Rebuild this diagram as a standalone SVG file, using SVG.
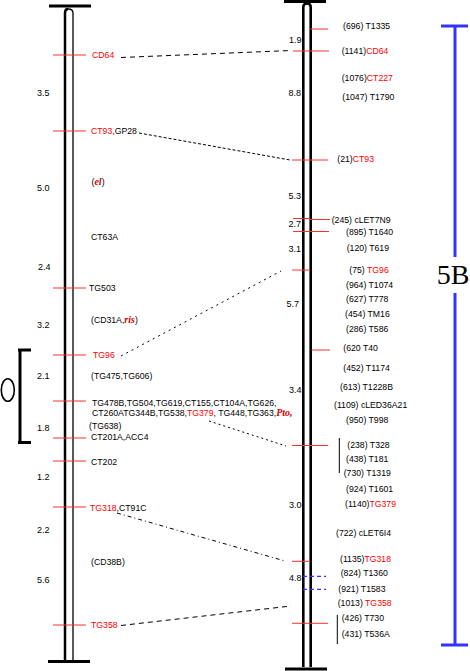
<svg xmlns="http://www.w3.org/2000/svg" width="470" height="671" viewBox="0 0 470 671">
<style>
text{font-family:"Liberation Sans",Arial,sans-serif;font-size:8.7px;fill:#000}
.r{fill:#ff0000}
.d{font-size:9px}
.it{font-family:"Liberation Serif",serif;font-weight:bold;font-style:italic;fill:#d00000;font-size:10px}
.tk{stroke:#ff3030;stroke-width:1}
.bt{stroke:#3333ff;stroke-width:1.2;stroke-dasharray:4 3}
.cn{stroke:#000;stroke-width:1;fill:none}
.bar{stroke:#000;fill:none}
.blue{stroke:#3333ff;stroke-width:3;fill:none}
</style>
<rect width="470" height="671" fill="#fff"/>

<g id="chrom-left">
<line class="bar" x1="49" y1="6" x2="91" y2="6" stroke-width="3"/>
<line class="bar" x1="48" y1="661.5" x2="90" y2="661.5" stroke-width="3"/>
<path class="bar" d="M65,660 L65,13 Q65,9 68,9" stroke-width="2.5"/>
<path class="bar" d="M68,9 Q73,9 73,13 L73,660" stroke-width="1.3"/>
<text class="d" x="37" y="96">3.5</text>
<text class="d" x="37" y="191">5.0</text>
<text class="d" x="38" y="269.5">2.4</text>
<text class="d" x="37" y="328">3.2</text>
<text class="d" x="37" y="379">2.1</text>
<text class="d" x="37" y="430.5">1.8</text>
<text class="d" x="37" y="480">1.2</text>
<text class="d" x="37" y="532.5">2.2</text>
<text class="d" x="37" y="583">5.6</text>
</g>

<g id="chrom-right">
<line class="bar" x1="284" y1="1.5" x2="326" y2="1.5" stroke-width="3"/>
<line class="bar" x1="285" y1="669" x2="327" y2="669" stroke-width="3"/>
<path class="bar" d="M303.3,667 L303.3,7 Q303.3,3.5 307,3.5 Q310.7,3.5 310.7,7 L310.7,667" stroke-width="2.6"/>
<text class="d" x="289" y="42.5">1.9</text>
<text class="d" x="288.5" y="95.5">8.8</text>
<text class="d" x="288.5" y="199">5.3</text>
<text class="d" x="288.5" y="226.5">2.7</text>
<text class="d" x="288.5" y="252">3.1</text>
<text class="d" x="286.5" y="306.5">5.7</text>
<text class="d" x="289" y="392.5">3.4</text>
<text class="d" x="289" y="508">3.0</text>
<text class="d" x="289" y="581">4.8</text>
</g>

<g id="bracket-left">
<line class="bar" x1="20" y1="349" x2="20" y2="443" stroke-width="3"/>
<line class="bar" x1="18" y1="350" x2="31" y2="350" stroke-width="3"/>
<line class="bar" x1="18" y1="442.5" x2="31" y2="442.5" stroke-width="3"/>
<ellipse cx="7.8" cy="390" rx="6.5" ry="11.3" fill="none" stroke="#000" stroke-width="1.6"/>
</g>

<g id="bracket-5B">
<line class="blue" x1="441" y1="26" x2="468" y2="26"/>
<line class="blue" x1="441" y1="645" x2="468" y2="645"/>
<line class="blue" x1="455" y1="26" x2="455" y2="257"/>
<line class="blue" x1="455" y1="293" x2="455" y2="645"/>
<text x="453" y="284" text-anchor="middle" style="font-family:'Liberation Serif',serif;font-size:28px">5B</text>
</g>

<g id="left-markers">
<g id="L-CD64"><line class="tk" x1="53" y1="55" x2="86" y2="55"/><text x="92" y="58" class="r">CD64</text></g>
<g id="L-CT93"><line class="tk" x1="53" y1="131" x2="86" y2="131"/><text x="91" y="134"><tspan class="r">CT93</tspan>,GP28</text></g>
<g id="L-el"><text x="91.5" y="185">(<tspan class="it">el</tspan>)</text></g>
<g id="L-CT63A"><text x="91" y="240">CT63A</text></g>
<g id="L-TG503"><line class="tk" x1="53" y1="288" x2="86" y2="288"/><text x="89" y="291">TG503</text></g>
<g id="L-CD31A"><text x="91" y="322.5">(CD31A,<tspan class="it">ris</tspan>)</text></g>
<g id="L-TG96"><line class="tk" x1="53" y1="355" x2="86" y2="355"/><text x="93" y="358" class="r">TG96</text></g>
<g id="L-TG475"><text x="91" y="379">(TG475,TG606)</text></g>
<g id="L-TG478B"><line class="tk" x1="53" y1="401" x2="86" y2="401"/><text x="92" y="405.5">TG478B,TG504,TG619,CT155,CT104A,TG626,</text><text x="92" y="416">CT260ATG344B,TG538,<tspan class="r">TG379</tspan>, TG448,TG363,<tspan class="it">Pto</tspan><tspan class="it">,</tspan></text></g>
<g id="L-TG638"><text x="89" y="429">(TG638)</text></g>
<g id="L-CT201A"><line class="tk" x1="53" y1="438" x2="86" y2="438"/><text x="91" y="439.5">CT201A,ACC4</text></g>
<g id="L-CT202"><line class="tk" x1="53" y1="461" x2="86" y2="461"/><text x="91" y="465">CT202</text></g>
<g id="L-TG318"><line class="tk" x1="53" y1="507" x2="86" y2="507"/><text x="90" y="510.5"><tspan class="r">TG318</tspan>,CT91C</text></g>
<g id="L-CD38B"><text x="91" y="564.5">(CD38B)</text></g>
<g id="L-TG358"><line class="tk" x1="53" y1="625" x2="86" y2="625"/><text x="91" y="628" class="r">TG358</text></g>
</g>

<g id="right-markers">
<g id="R-T1335"><line class="tk" x1="310" y1="29" x2="328" y2="29"/><text x="343" y="29">(696) T1335</text></g>
<g id="R-CD64"><line class="tk" x1="293" y1="51" x2="329" y2="51"/><text x="341.7" y="54">(1141)<tspan class="r">CD64</tspan></text></g>
<g id="R-CT227"><text x="341.7" y="80.5">(1076)<tspan class="r">CT227</tspan></text></g>
<g id="R-T1790"><text x="342.3" y="100">(1047) T1790</text></g>
<g id="R-CT93"><line class="tk" x1="292" y1="160" x2="328" y2="160"/><text x="337.3" y="161.5">(21)<tspan class="r">CT93</tspan></text></g>
<g id="R-cLET7N9"><line class="tk" x1="293" y1="218.5" x2="310" y2="218.5"/><line class="tk" x1="310" y1="219.5" x2="330" y2="219.5"/><text x="331.7" y="222.5">(245) cLET7N9</text></g>
<g id="R-T1640"><line class="tk" x1="293" y1="231.5" x2="329" y2="231.5"/><text x="346" y="234.5">(895) T1640</text></g>
<g id="R-T619"><text x="346.7" y="250.5">(120) T619</text></g>
<g id="R-TG96"><line class="tk" x1="292" y1="270" x2="310" y2="270"/><text x="349.3" y="272.5">(75) <tspan class="r">TG96</tspan></text></g>
<g id="R-T1074"><text x="346" y="287.5">(964) T1074</text></g>
<g id="R-T778"><text x="346" y="302">(627) T778</text></g>
<g id="R-TM16"><text x="345" y="316.5">(454) TM16</text></g>
<g id="R-T586"><text x="346" y="332">(286) T586</text></g>
<g id="R-T40"><line class="tk" x1="311.5" y1="350" x2="330" y2="350"/><text x="343.3" y="351">(620 T40</text></g>
<g id="R-T1174"><text x="343.3" y="370.5">(452) T1174</text></g>
<g id="R-T1228B"><text x="340" y="390">(613) T1228B</text></g>
<g id="R-cLED36A21"><text x="334" y="408">(1109) cLED36A21</text></g>
<g id="R-T998"><text x="346" y="423">(950) T998</text></g>
<g id="R-T328"><line class="tk" x1="292" y1="445.5" x2="328" y2="445.5"/><line class="bar" x1="339.3" y1="438" x2="339.3" y2="473" stroke-width="1"/><text x="347.3" y="448">(238) T328</text></g>
<g id="R-T181"><text x="346" y="462">(438) T181</text></g>
<g id="R-T1319"><text x="343.7" y="476">(730) T1319</text></g>
<g id="R-T1601"><text x="346" y="492">(924) T1601</text></g>
<g id="R-TG379"><text x="345" y="507">(1140)<tspan class="r">TG379</tspan></text></g>
<g id="R-cLET6I4"><text x="336" y="535.5">(722) cLET6I4</text></g>
<g id="R-TG318"><line class="tk" x1="292" y1="561.3" x2="310" y2="561.3"/><text x="340" y="562">(1135)<tspan class="r">TG318</tspan></text></g>
<g id="R-T1360"><line class="bt" x1="303" y1="576.3" x2="326" y2="576.3"/><text x="340.7" y="576">(824) T1360</text></g>
<g id="R-T1583"><line class="bt" x1="303" y1="589.3" x2="326" y2="589.3"/><text x="338.3" y="591.5">(921) T1583</text></g>
<g id="R-TG358"><text x="337.7" y="606">(1013) <tspan class="r">TG358</tspan></text></g>
<g id="R-T730"><line class="tk" x1="292" y1="623.3" x2="328" y2="623.3"/><line class="bar" x1="337.3" y1="615" x2="337.3" y2="644" stroke-width="1"/><text x="341.7" y="621">(426) T730</text></g>
<g id="R-T536A"><text x="341.7" y="636.5">(431) T536A</text></g>
</g>

<g id="connectors">
<line class="cn" x1="121" y1="57.5" x2="291" y2="50.5" stroke-dasharray="5 4"/>
<line class="cn" x1="139" y1="133" x2="290" y2="160" stroke-dasharray="3 2"/>
<line class="cn" x1="121" y1="356" x2="281" y2="271" stroke-dasharray="2 4"/>
<line class="cn" x1="209" y1="421" x2="286" y2="446" stroke-dasharray="2 3"/>
<line class="cn" x1="117" y1="513" x2="285" y2="561" stroke-dasharray="4 3 1 3"/>
<line class="cn" x1="121" y1="625.5" x2="291" y2="606" stroke-dasharray="5 4"/>
</g>
</svg>
